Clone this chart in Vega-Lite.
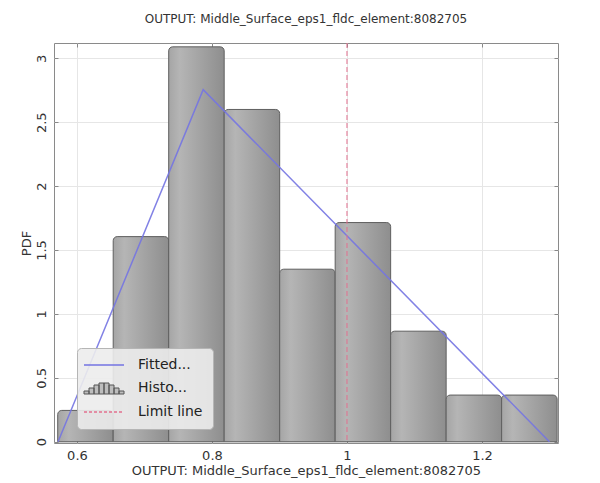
{
  "$schema": "https://vega.github.io/schema/vega-lite/v6.json",
  "width": 504,
  "height": 400,
  "autosize": "none",
  "padding": {"left": 54, "top": 43, "right": 42, "bottom": 40},
  "background": "white",
  "config": {
    "font": "DejaVu Sans",
    "view": {"stroke": "#8a8a8a", "strokeWidth": 1},
    "axis": {"domain": false, "tickColor": "#888888", "labelColor": "#333333", "titleColor": "#333333", "labelFontSize": 13, "titleFontSize": 13, "titleFontWeight": "normal", "gridColor": "#e6e6e6"}
  },
  "title": {"text": "OUTPUT: Middle_Surface_eps1_fldc_element:8082705", "fontSize": 12, "fontWeight": "normal", "color": "#333333", "offset": 17},
  "datasets": {
    "bars": [
      {"x0": 0.5715, "x1": 0.6537, "d": 0.245},
      {"x0": 0.6537, "x1": 0.7359, "d": 1.605},
      {"x0": 0.7359, "x1": 0.8181, "d": 3.09},
      {"x0": 0.8181, "x1": 0.9003, "d": 2.6},
      {"x0": 0.9003, "x1": 0.9825, "d": 1.35},
      {"x0": 0.9825, "x1": 1.0647, "d": 1.715},
      {"x0": 1.0647, "x1": 1.1469, "d": 0.865},
      {"x0": 1.1469, "x1": 1.2291, "d": 0.365},
      {"x0": 1.2291, "x1": 1.3113, "d": 0.365}
    ],
    "fit": [
      {"x": 0.572, "y": 0, "series": "Fitted..."},
      {"x": 0.787, "y": 2.755, "series": "Fitted..."},
      {"x": 1.30, "y": 0, "series": "Fitted..."}
    ],
    "limit": [{"x": 1, "series": "Limit line"}]
  },
  "resolve": {"axis": {"x": "independent", "y": "independent"}},
  "layer": [
    {
      "data": {"name": "bars"},
      "mark": {
        "type": "bar",
        "fill": {"gradient": "linear", "x1": 0, "y1": 0, "x2": 1, "y2": 0, "stops": [
          {"offset": 0, "color": "#a5a5a5"},
          {"offset": 0.2, "color": "#b5b5b5"},
          {"offset": 1, "color": "#8e8e8e"}
        ]},
        "stroke": "#5f5f5f",
        "strokeWidth": 1,
        "cornerRadiusTopLeft": 4,
        "cornerRadiusTopRight": 4
      },
      "encoding": {
        "x": {"field": "x0", "type": "quantitative",
          "scale": {"domain": [0.566, 1.3126], "nice": false, "zero": false},
          "axis": {"orient": "bottom", "values": [0.6, 0.8, 1, 1.2], "format": "~g", "grid": true, "tickSize": -4, "labelPadding": 10, "title": "OUTPUT: Middle_Surface_eps1_fldc_element:8082705", "titlePadding": 2}},
        "x2": {"field": "x1"},
        "y": {"field": "d", "type": "quantitative",
          "scale": {"domain": [-0.01, 3.12], "nice": false, "zero": false},
          "axis": {"orient": "left", "values": [0, 0.5, 1, 1.5, 2, 2.5, 3], "format": "~g", "grid": true, "tickSize": -4, "labelPadding": 10, "labelAngle": -90, "title": "PDF", "titlePadding": 2}},
        "y2": {"datum": 0}
      }
    },
    {
      "data": {"name": "fit"},
      "mark": {"type": "line", "strokeWidth": 1.5, "opacity": 0.9},
      "encoding": {
        "x": {"field": "x", "type": "quantitative",
          "axis": {"orient": "top", "values": [0.6, 0.8, 1, 1.2], "labels": false, "grid": false, "tickSize": -4, "title": null}},
        "y": {"field": "y", "type": "quantitative",
          "axis": {"orient": "right", "values": [0, 0.5, 1, 1.5, 2, 2.5, 3], "labels": false, "grid": false, "tickSize": -4, "title": null}},
        "color": {"field": "series", "type": "nominal",
          "scale": {"domain": ["Fitted...", "Histo...", "Limit line"], "range": ["#7474e2", "#555555", "#e2708e"]},
          "legend": {
            "orient": "none", "legendX": 23, "legendY": 305, "title": null,
            "fillColor": "rgba(236,236,236,0.9)", "strokeColor": "#b5b5b5", "cornerRadius": 4,
            "padding": 10, "rowPadding": 9, "labelFontSize": 14, "labelColor": "#222222",
            "symbolSize": 100, "labelOffset": 37, "symbolStrokeWidth": 1.5,
            "encoding": {"symbols": {
              "shape": {"value": {"expr": "datum.value === 'Histo...' ? 'M-2,1.2V0.6H-1V1.2ZM-1,1.2V0H0V1.2ZM0,1.2V-0.6H1V1.2ZM1,1.2V-1H2V1.2ZM2,1.2V-1H3V1.2ZM3,1.2V-0.6H4V1.2ZM4,1.2V0H5V1.2ZM5,1.2V0.6H6V1.2Z' : 'M-2,0H6'"}},
              "fill": {"value": {"expr": "datum.value === 'Histo...' ? '#bdbdbd' : 'transparent'"}},
              "strokeWidth": {"value": {"expr": "datum.value === 'Histo...' ? 1 : 1.5"}},
              "strokeDash": {"value": {"expr": "datum.value === 'Limit line' ? [3, 2] : [1, 0]"}},
              "opacity": {"value": 1}
            }}
          }}
      }
    },
    {
      "data": {"name": "limit"},
      "mark": {"type": "rule", "strokeWidth": 1, "strokeDash": [5, 3]},
      "encoding": {
        "x": {"field": "x", "type": "quantitative", "axis": null},
        "color": {"field": "series", "type": "nominal"}
      }
    }
  ]
}
